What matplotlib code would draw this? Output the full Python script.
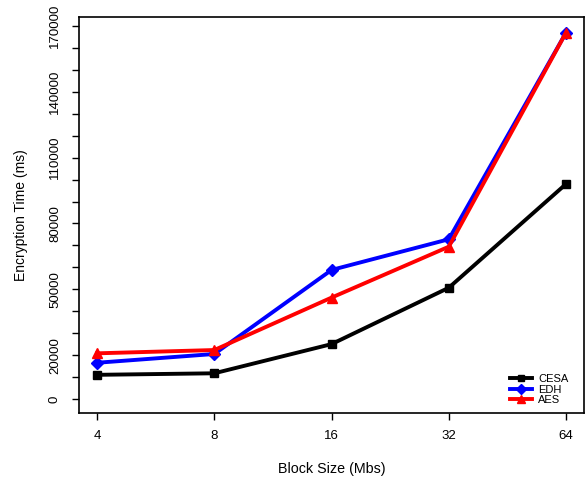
import numpy as np
import matplotlib.pyplot as plt

plt.rcParams['font.family'] = ['Liberation Sans', 'DejaVu Sans']

# block sizes and encryption times (ms)
block_sizes = ["4", "8", "16", "32", "64"]
cesa = [11000, 11700, 25000, 50700, 98000]
edh = [16500, 20500, 58800, 72800, 167000]
aes = [20800, 22300, 46200, 69400, 167000]

y_major = [0, 20000, 50000, 80000, 110000, 140000, 170000]

fig = plt.figure(figsize=(5.85, 4.79), dpi=100)
ax = fig.add_axes([79 / 585, 1 - 413 / 479, 505 / 585, 396 / 479])

x = np.arange(1, len(block_sizes) + 1)
ax.plot(x, cesa, color='black', lw=2.8, marker='s', ms=6, label='CESA')
ax.plot(x, edh, color='blue', lw=2.8, marker='D', ms=6, label='EDH')
ax.plot(x, aes, color='red', lw=2.8, marker='^', ms=7, label='AES')

ax.set_xlim(0.846, 5.153)
ax.set_ylim(-6400, 174100)
ax.set_xticks(x)
ax.set_xticklabels(block_sizes)
ax.set_yticks(np.arange(0, 170001, 10000))
ax.set_yticklabels([str(v) if v in y_major else '' for v in range(0, 170001, 10000)],
                   rotation=90, va='center')
ax.tick_params(axis='both', direction='out', length=5, width=1, labelsize=9.5)
ax.tick_params(axis='x', pad=7)
ax.tick_params(axis='y', pad=8)
for s in ax.spines.values():
    s.set_linewidth(1.2)

ax.set_xlabel('Block Size (Mbs)', fontsize=10.3, labelpad=15)
ax.set_ylabel('Encryption Time (ms)', fontsize=10, labelpad=15)

leg = ax.legend(loc='lower right', frameon=False, fontsize=8, handlelength=2.0,
                labelspacing=0.05, borderaxespad=0.3, markerscale=0.8,
                handletextpad=0.6, bbox_to_anchor=(0.985, 0.0))

fig.savefig('out.png', dpi=100)
